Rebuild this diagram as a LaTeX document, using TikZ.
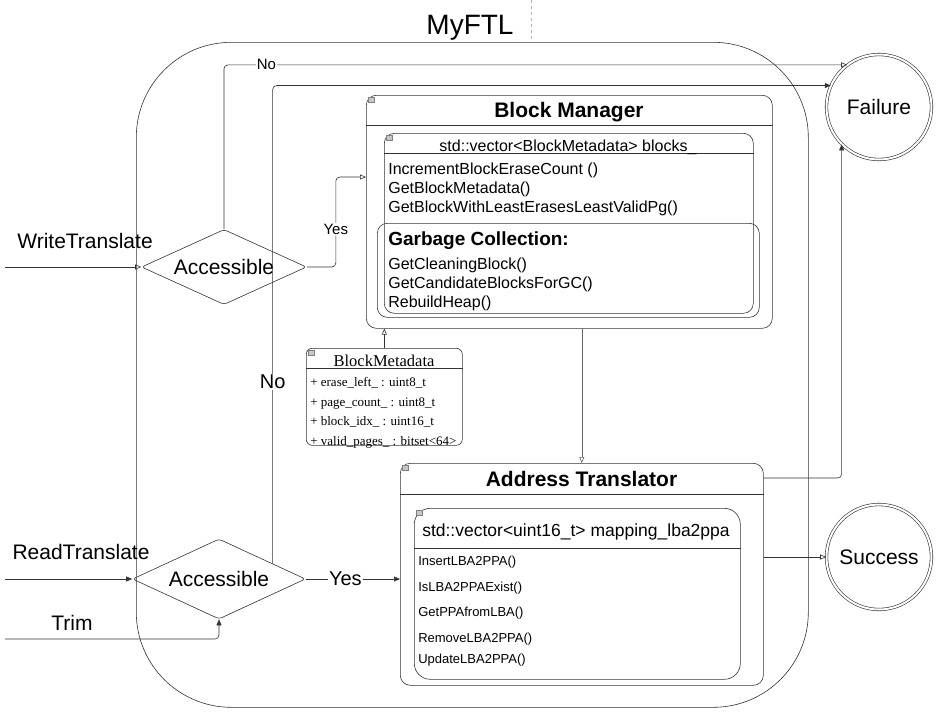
\documentclass[tikz,border=0pt]{standalone}
\usepackage{fontspec}
\setmainfont{Liberation Sans}
\newfontfamily\metafont{Liberation Serif}
\usetikzlibrary{positioning,calc,shapes.geometric,arrows.meta}
\definecolor{line-grey}{rgb}{0.2,0.2,0.2}
\definecolor{icon-grey}{rgb}{0.78,0.78,0.78}

\tikzset{
  umlbox/.style={draw=line-grey, rounded corners=10pt, anchor=north west, inner sep=0pt},
  decision/.style={draw=line-grey, diamond, aspect=2.2, inner sep=0pt, rounded corners=3pt,
    font=\fontsize{21}{25}\selectfont},
  endstate/.style={draw=line-grey, circle, double, double distance=2pt, minimum size=105pt,
    font=\fontsize{21}{25}\selectfont},
  openarrow/.style={draw=line-grey, -{Triangle[open, length=6pt, width=5pt]}},
  fillarrow/.style={draw=line-grey, -{Triangle[length=6pt, width=5pt]}},
  member/.style={anchor=base west, inner sep=0pt},
  edgetext/.style={fill=white, inner sep=1pt},
}

\begin{document}
\begin{tikzpicture}[x=1pt, y=-1pt, line width=0.6pt]
\useasboundingbox (0,0) rectangle (948,716);

% container
\node[umlbox, rounded corners=95pt, minimum width=672pt, minimum height=665pt] (myftl) at (136,42) {};
\node[anchor=base, font=\fontsize{28}{32}\selectfont] (title) at (470,34) {MyFTL};
\draw[dashed, draw=black!30, line width=0.4pt] (531,0) -- (531,42);

% block manager
\node[umlbox, minimum width=406pt, minimum height=233pt] (bm) at (366,95) {};
\draw[line-grey] ([yshift=-30pt]bm.north west) -- ([yshift=-30pt]bm.north east);
\node[anchor=base, font=\bfseries\fontsize{21}{25}\selectfont] (bm-title) at (569,117) {Block Manager};
\node[umlbox, minimum width=369pt, minimum height=180pt] (blocks) at (384,133) {};
\draw[line-grey] ([yshift=-20pt]blocks.north west) -- ([yshift=-20pt]blocks.north east);
\node[anchor=base, font=\fontsize{16}{19}\selectfont] (blocks-title) at (568,151) {std::vector<BlockMetadata> blocks\_};
\foreach \fn [count=\i] in {IncrementBlockEraseCount (), GetBlockMetadata(), GetBlockWithLeastErasesLeastValidPg()}
  \node[member, font=\fontsize{16}{19}\selectfont] (bm-fn\i) at (388,155+19*\i) {\fn};
\node[umlbox, minimum width=382pt, minimum height=94pt] (gc) at (377,223) {};
\node[member, font=\bfseries\fontsize{19}{22}\selectfont] (gc-title) at (388,245) {Garbage Collection:};
\foreach \fn [count=\i] in {GetCleaningBlock(), GetCandidateBlocksForGC(), RebuildHeap()}
  \node[member, font=\fontsize{16}{19}\selectfont] (gc-fn\i) at (388,250+19*\i) {\fn};

% block metadata
\node[umlbox, rounded corners=6pt, minimum width=156pt, minimum height=97pt] (meta) at (306,348) {};
\draw[line-grey] ([yshift=-20pt]meta.north west) -- ([yshift=-20pt]meta.north east);
\node[anchor=base, font=\metafont\fontsize{16.5}{19}\selectfont] (meta-title) at (384,366) {BlockMetadata};
\foreach \field [count=\i] in {erase\_left\_ : uint8\_t, page\_count\_ : uint8\_t, block\_idx\_ : uint16\_t, valid\_pages\_ : bitset<64>}
  \node[member, font=\metafont\fontsize{13}{15}\selectfont] (meta-f\i) at (310,367+19.5*\i) {+ \field};

% address translator
\node[umlbox, minimum width=363pt, minimum height=222pt] (at) at (400,463) {};
\draw[line-grey] ([yshift=-31pt]at.north west) -- ([yshift=-31pt]at.north east);
\node[anchor=base, font=\bfseries\fontsize{21}{25}\selectfont] (at-title) at (581.5,486.5) {Address Translator};
\node[umlbox, rounded corners=16pt, minimum width=326pt, minimum height=171pt] (mapping) at (414,508) {};
\draw[line-grey] ([yshift=-40pt]mapping.north west) -- ([yshift=-40pt]mapping.north east);
\node[anchor=base, font=\fontsize{17.5}{21}\selectfont] (mapping-title) at (576,536) {std::vector<uint16\_t> mapping\_lba2ppa};
\foreach \fn/\y [count=\i] in {InsertLBA2PPA()/565, IsLBA2PPAExist()/591, GetPPAfromLBA()/616, RemoveLBA2PPA()/642, UpdateLBA2PPA()/663}
  \node[member, font=\fontsize{13}{15}\selectfont] (map-fn\i) at (418,\y) {\fn};

% collapse icons
\foreach \x/\y in {368/97, 386/135, 402/465, 416/510, 308/350}
  \draw[draw=black!50, fill=icon-grey, line width=0.3pt] (\x,\y) rectangle ++(6,5);

% checks and end states
\node[decision, minimum width=165pt, minimum height=75pt] (write-check) at (224,267) {Accessible};
\node[decision, minimum width=173pt, minimum height=80pt] (read-check) at (219,579) {Accessible};
\node[endstate] (failure) at (879,107) {Failure};
\node[endstate] (success) at (879,557) {Success};

% inputs
\coordinate (write-in) at (5,267);
\coordinate (read-in) at (5,579);
\coordinate (trim-in) at (5,639);
\node[anchor=base, font=\fontsize{21}{25}\selectfont] (write-lbl) at (85,248) {WriteTranslate};
\node[anchor=base, font=\fontsize{21}{25}\selectfont] (read-lbl) at (81,559) {ReadTranslate};
\node[anchor=base, font=\fontsize{21}{25}\selectfont] (trim-lbl) at (72,630) {Trim};

% connectors
\draw[openarrow] (write-in) -- (write-check.west);
\draw[fillarrow] (read-in) -- (read-check.west);
\draw[fillarrow, rounded corners=4pt] (trim-in) -| (read-check.south);
\draw[openarrow, rounded corners=4pt] (write-check.north) |- node[edgetext, pos=0.534, font=\fontsize{15}{18}\selectfont] {No} (failure.127);
\draw[openarrow, rounded corners=4pt] (write-check.east) -- ++(29,0) |- node[edgetext, pos=0.21, font=\fontsize{15}{18}\selectfont] {Yes} ([yshift=-82pt]bm.north west);
\draw[fillarrow] (read-check.east) -- node[edgetext, pos=0.42, font=\fontsize{20}{24}\selectfont] {Yes} (read-check.east -| at.west);
\draw[fillarrow, rounded corners=4pt] (read-check.16) |- node[edgetext, pos=0.19, font=\fontsize{20}{24}\selectfont] {No} (failure.156);
\draw[fillarrow, rounded corners=4pt] ([yshift=-15pt]at.north east) -| (failure.225);
\draw[openarrow] (at.east |- success.west) -- (success.west);
\draw[openarrow, draw=black!60] (bm.south -| at.north) -- (at.north);
\draw[openarrow] (meta.north) -- (meta.north |- bm.south);

\end{tikzpicture}
\end{document}
